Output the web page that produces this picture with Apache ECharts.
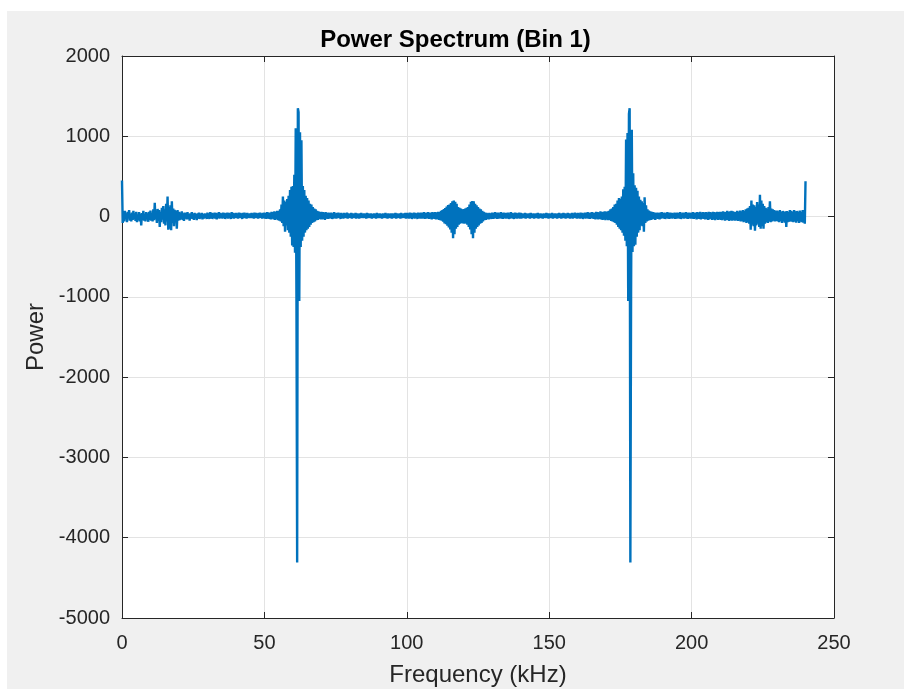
<!DOCTYPE html>
<html>
<head>
<meta charset="utf-8">
<script src="https://cdn.jsdelivr.net/npm/echarts@6/dist/echarts.min.js"></script>
<style>
  html, body { margin: 0; padding: 0; background: #ffffff; width: 904px; height: 689px; overflow: hidden; }
  #chart { position: absolute; left: 7px; top: 11px; width: 897px; height: 678px; }
</style>
</head>
<body>
<div id="chart"></div>
<script>
// Spectrum bins are spaced 0.25 kHz apart, starting at 0 kHz
const binStepKHz = 0.25;

// Power per bin, 0 ... 240 kHz (20 bins per row = 5 kHz)
const power = [
  450, -80, 50, -60, 70, -30, 40, -70, 60, -20, 80, -50, 30, -60, 50, -40, 70, -30, 40, -55,            // 0
  60, -70, 20, -45, 55, -60, 35, -110, 45, -30, 70, -50, 25, -60, 55, -35, 40, -65, 60, -40,            // 5
  75, -50, 40, -60, 90, -45, 170, -30, 60, -80, 95, -55, 80, -130, 60, -70, 110, -40, 130, -90,          // 10
  90, -110, 160, -60, 250, -165, 120, -150, 140, -170, 190, -80, 100, -120, 85, -60, 70, -150, 80, -50,  // 15
  60, -45, 50, -30, 65, -40, 40, -55, 50, -25, 45, -35, 55, -30, 35, -50, 40, -25, 55, -30,             // 20
  35, -40, 45, -20, 30, -45, 40, -25, 50, -30, 35, -20, 45, -35, 30, -25, 40, -15, 35, -30,             // 25
  50, -25, 40, -30, 55, -20, 45, -30, 40, -15, 50, -25, 45, -35, 40, -20, 55, -25, 45, -15,             // 30
  40, -25, 50, -20, 45, -30, 40, -15, 50, -25, 45, -20, 40, -30, 55, -15, 45, -25, 40, -20,             // 35
  45, -20, 40, -25, 50, -15, 45, -20, 40, -30, 45, -15, 50, -20, 40, -25, 45, -15, 35, -20,             // 40
  40, -20, 45, -15, 40, -25, 50, -20, 45, -15, 40, -25, 45, -20, 50, -15, 40, -25, 45, -20,             // 45
  50, -25, 45, -30, 55, -20, 50, -30, 45, -35, 60, -25, 55, -35, 65, -40, 60, -30, 70, -45,             // 50
  70, -50, 90, -60, 150, -80, 250, -120, 200, -190, 180, -110, 220, -170, 260, -200, 330, -250, 370, -360, // 55
  380, -380, 520, -450, 1100, -1000, -4310, 1350, 1300, -1050, 1050, -380, 950, -300, 380, -250, 330, -200, 260, -170, // 60
  230, -150, 200, -130, 160, -100, 150, -80, 120, -70, 100, -60, 90, -45, 70, -40, 65, -30, 55, -35,    // 65
  60, -35, 55, -30, 50, -40, 55, -25, 45, -30, 50, -25, 45, -20, 50, -30, 40, -25, 55, -20,             // 70
  40, -25, 45, -20, 50, -15, 40, -30, 45, -20, 35, -25, 45, -15, 40, -20, 50, -25, 40, -15,             // 75
  35, -20, 45, -25, 40, -15, 35, -20, 45, -25, 40, -15, 35, -25, 40, -20, 45, -15, 35, -20,             // 80
  40, -15, 35, -25, 45, -20, 40, -15, 35, -20, 40, -25, 30, -15, 40, -20, 35, -25, 45, -15,             // 85
  35, -20, 40, -15, 30, -25, 40, -20, 35, -15, 45, -20, 35, -25, 40, -15, 35, -20, 40, -25,             // 90
  40, -20, 35, -15, 45, -25, 40, -20, 35, -15, 40, -25, 45, -20, 35, -15, 40, -20, 45, -25,             // 95
  45, -20, 40, -25, 50, -15, 45, -30, 40, -20, 50, -25, 45, -15, 40, -30, 50, -20, 45, -25,             // 100
  50, -25, 45, -20, 55, -30, 45, -25, 50, -20, 55, -30, 45, -25, 50, -35, 55, -25, 50, -30,             // 105
  55, -35, 50, -30, 60, -40, 55, -45, 70, -50, 80, -65, 95, -85, 105, -95, 125, -115, 145, -135,        // 110
  150, -160, 170, -200, 190, -270, 200, -220, 185, -150, 160, -130, 120, -100, 110, -90, 100, -80, 90, -85, // 115
  95, -90, 100, -85, 110, -100, 120, -130, 150, -160, 185, -220, 195, -270, 190, -200, 160, -150, 140, -130, // 120
  120, -110, 100, -90, 90, -80, 70, -60, 60, -45, 50, -40, 45, -30, 40, -35, 45, -25, 40, -30,          // 125
  50, -30, 45, -25, 55, -20, 45, -30, 50, -25, 40, -20, 55, -25, 45, -30, 50, -20, 45, -25,             // 130
  45, -20, 50, -30, 40, -25, 55, -20, 45, -25, 40, -30, 50, -15, 45, -25, 40, -20, 50, -25,             // 135
  45, -25, 40, -15, 35, -20, 45, -25, 40, -15, 35, -20, 40, -25, 45, -15, 35, -20, 40, -25,             // 140
  35, -15, 40, -20, 45, -25, 35, -15, 40, -20, 30, -25, 40, -15, 35, -20, 45, -15, 40, -25,             // 145
  40, -20, 35, -15, 45, -25, 35, -20, 40, -15, 35, -25, 40, -20, 45, -15, 35, -25, 40, -20,             // 150
  45, -15, 40, -25, 35, -20, 45, -15, 40, -25, 35, -20, 45, -25, 40, -15, 50, -20, 40, -25,             // 155
  45, -20, 40, -25, 50, -15, 45, -30, 40, -20, 50, -25, 45, -20, 55, -25, 45, -30, 50, -20,             // 160
  55, -25, 50, -30, 45, -35, 60, -25, 55, -35, 50, -30, 65, -35, 55, -40, 60, -35, 65, -45,             // 165
  60, -35, 65, -45, 70, -40, 90, -55, 100, -60, 120, -70, 150, -80, 160, -100, 200, -130, 230, -150,    // 170
  220, -170, 250, -200, 340, -240, 370, -300, 960, -370, 1040, -1050, 1280, 1350, -4310, -1000, 1080, -440, 540, -370, // 175
  390, -350, 360, -250, 320, -200, 250, -170, 210, -110, 190, -120, 170, -190, 240, -80, 140, -60, 90, -50, // 180
  75, -45, 65, -40, 60, -35, 55, -30, 50, -40, 45, -25, 50, -30, 45, -35, 50, -25, 55, -20,             // 185
  45, -25, 50, -30, 40, -20, 55, -25, 45, -30, 50, -15, 45, -25, 40, -20, 50, -30, 45, -25,             // 190
  50, -20, 45, -25, 55, -30, 40, -20, 50, -25, 45, -15, 55, -25, 45, -30, 50, -20, 45, -25,             // 195
  50, -25, 55, -30, 45, -20, 50, -35, 55, -25, 45, -30, 60, -35, 50, -25, 55, -30, 50, -35,             // 200
  55, -30, 50, -40, 60, -35, 55, -25, 50, -40, 60, -35, 55, -45, 50, -30, 60, -40, 55, -35,             // 205
  60, -40, 55, -45, 65, -35, 60, -50, 55, -40, 70, -45, 60, -55, 65, -40, 70, -50, 65, -45,             // 210
  60, -50, 55, -45, 70, -55, 60, -50, 75, -60, 65, -55, 80, -70, 70, -60, 90, -80, 100, -70,            // 215
  110, -90, 130, -165, 200, -100, 150, -120, 140, -175, 120, -110, 180, -90, 150, -130, 270, -150, 200, -120, // 220
  160, -150, 130, -90, 110, -70, 100, -80, 120, -60, 190, -70, 100, -60, 90, -50, 80, -60, 70, -55,     // 225
  75, -60, 65, -70, 80, -55, 60, -80, 70, -60, 60, -75, 65, -130, 70, -70, 55, -65, 80, -60,            // 230
  70, -65, 60, -70, 80, -60, 65, -75, 70, -55, 60, -80, 75, -65, 60, -70, 80, -75, 65, -90,             // 235
  440                                                                                                  // 240
];

// Axis ranges and tick spacing
const xRange = [0, 250];
const xTickStep = 50;
const yRange = [-5000, 2000];
const yTickStep = 1000;

const titleText = 'Power Spectrum (Bin 1)';
const xLabel = 'Frequency (kHz)';
const yLabel = 'Power';

const seriesData = power.map((p, i) => [i * binStepKHz, p]);

const ink = '#262626';
const gridLine = '#e3e3e3';
const font = 'Liberation Sans, Arial, Helvetica, sans-serif';

function axisBase(extra) {
  return Object.assign({
    type: 'value',
    axisLine: { show: true, onZero: false, lineStyle: { color: ink, width: 1 } },
    axisTick: { show: true, inside: true, length: 6, lineStyle: { color: ink, width: 1 } },
    splitLine: { show: false },
    axisLabel: { show: false }
  }, extra);
}

const chart = echarts.init(document.getElementById('chart'), null, { renderer: 'canvas' });

chart.setOption({
  animation: false,
  backgroundColor: '#f0f0f0',
  textStyle: { fontFamily: font },
  title: {
    text: titleText,
    left: 'center',
    top: 12,
    textStyle: { fontFamily: font, fontSize: 24, fontWeight: 'bold', color: '#000000' }
  },
  grid: {
    left: 115, right: 70, top: 45, bottom: 71,
    containLabel: false,
    outerBoundsMode: 'none',
    show: true, backgroundColor: '#ffffff', borderWidth: 0
  },
  xAxis: [
    axisBase({
      position: 'bottom', min: xRange[0], max: xRange[1], interval: xTickStep,
      splitLine: { show: true, lineStyle: { color: gridLine, width: 1 } },
      axisLabel: { show: true, color: ink, fontSize: 20, fontFamily: font, margin: 15,
                   formatter: v => String(v) },
      name: xLabel, nameLocation: 'middle', nameGap: 45,
      nameTextStyle: { color: ink, fontSize: 24, fontFamily: font }
    }),
    axisBase({ position: 'top', min: xRange[0], max: xRange[1], interval: xTickStep })
  ],
  yAxis: [
    axisBase({
      position: 'left', min: yRange[0], max: yRange[1], interval: yTickStep,
      splitLine: { show: true, lineStyle: { color: gridLine, width: 1 } },
      axisLabel: { show: true, color: ink, fontSize: 20, fontFamily: font, margin: 12,
                   formatter: v => String(v) },
      name: yLabel, nameLocation: 'middle', nameGap: 66, nameRotate: 90,
      nameTextStyle: { color: ink, fontSize: 24, fontFamily: font }
    }),
    axisBase({ position: 'right', min: yRange[0], max: yRange[1], interval: yTickStep })
  ],
  series: [{
    type: 'line',
    xAxisIndex: 0,
    yAxisIndex: 0,
    data: seriesData,
    showSymbol: false,
    symbol: 'none',
    sampling: null,
    lineStyle: { color: '#0072BD', width: 2.4 },
    emphasis: { disabled: true }
  }]
});
</script>
</body>
</html>
